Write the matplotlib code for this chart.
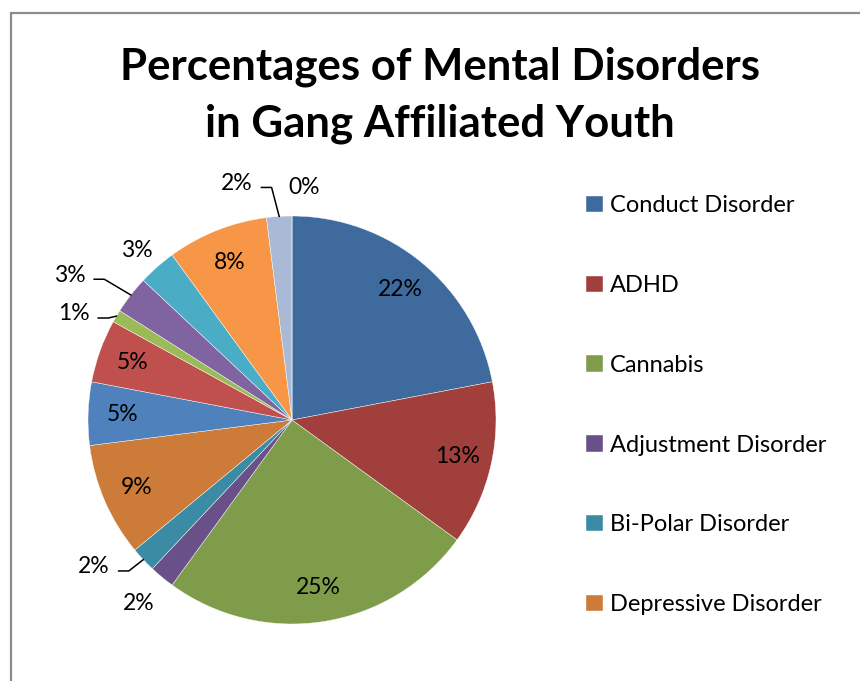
import numpy as np
import matplotlib.pyplot as plt
from matplotlib.patches import Rectangle

plt.rcParams['font.family'] = ['Lato', 'DejaVu Sans']

# slice values (percent), clockwise from 12 o'clock
values = [22, 13, 25, 2, 2, 9, 5, 5, 1, 3, 3, 8, 2, 0]
legend_names = ['Conduct Disorder', 'ADHD', 'Cannabis', 'Adjustment Disorder',
                'Bi-Polar Disorder', 'Depressive Disorder']
colors = ['#3f6a9e', '#a03f3c', '#7f9c4a', '#6a5088', '#3a8ba3', '#cc7b38',
          '#4f81bd', '#c0504d', '#9bbb59', '#8064a2', '#4bacc6', '#f79646',
          '#a9b9d6', '#d9a9a8']

# labels outside the pie: index -> (x, y, leader?)
outside = {
    3: (-0.75, -0.90, False),
    4: (-0.97, -0.72, True),
    8: (-1.07, 0.52, True),
    9: (-1.09, 0.71, True),
    10: (-0.76, 0.83, False),
    12: (-0.27, 1.16, True),
    13: (0.06, 1.14, False),
}

W, H = 860, 681
fig = plt.figure(figsize=(W / 100, H / 100), dpi=100)

# chart border
fig.patches.append(Rectangle((11 / W, -0.1), 1.2, (H - 13) / H + 0.1,
                             transform=fig.transFigure, fill=False,
                             edgecolor='#8c8c8c', lw=1.6, zorder=0))

fig.text(440 / W, 1 - 67 / H, 'Percentages of Mental Disorders', ha='center',
         va='center', fontsize=31.5, fontweight='bold')
fig.text(440 / W, 1 - 124 / H, 'in Gang Affiliated Youth', ha='center',
         va='center', fontsize=31.5, fontweight='bold')

cx, cy, r = 292, 420, 204
ax = fig.add_axes([(cx - r) / W, (H - cy - r) / H, 2 * r / W, 2 * r / H])
wedges, _ = ax.pie(values, colors=colors, startangle=90, counterclock=False,
                   radius=1, wedgeprops=dict(edgecolor='white', linewidth=0.3))
ax.set_xlim(-1, 1)
ax.set_ylim(-1, 1)
ax.set_aspect('equal')

for i, (w, v) in enumerate(zip(wedges, values)):
    mid = np.deg2rad((w.theta1 + w.theta2) / 2)
    txt = f'{v}%'
    if i in outside:
        x, y, lead = outside[i]
        ax.text(x, y, txt, ha='center', va='center', fontsize=16.5)
        if lead:
            ex, ey = np.cos(mid), np.sin(mid)
            side = 1 if x < ex else -1
            tx = x + side * 0.12
            elbow = tx + side * 0.05
            ax.plot([ex, elbow, tx], [ey, y - 0.02, y - 0.02], color='black',
                    lw=1.1, clip_on=False)
    else:
        ax.text(0.83 * np.cos(mid), 0.83 * np.sin(mid), txt, ha='center',
                va='center', fontsize=16.5)

ax.legend(wedges[:6], legend_names, loc='upper left', frameon=False,
          bbox_to_anchor=(565 / W, 1 - 174 / H), bbox_transform=fig.transFigure,
          fontsize=17, labelspacing=2.49, handlelength=0.7, handleheight=0.7,
          handletextpad=0.3)

fig.savefig('out.png', dpi=100)
